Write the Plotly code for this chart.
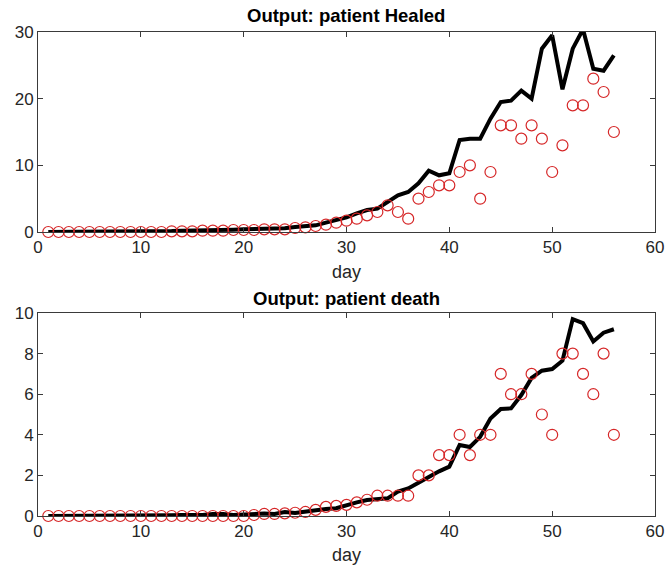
import plotly.graph_objects as go

days = list(range(1, 57))

healed_observed = [0, 0, 0, 0, 0, 0, 0, 0, 0, 0,
                   0, 0, 0.1, 0.1, 0.1, 0.2, 0.2, 0.2, 0.3, 0.3,
                   0.3, 0.4, 0.4, 0.4, 0.6, 0.7, 0.9, 1.1, 1.4, 1.7,
                   2, 2.5, 3, 4, 3, 2, 5, 6, 7, 7,
                   9, 10, 5, 9, 16, 16, 14, 16, 14, 9,
                   13, 19, 19, 23, 21, 15]

healed_model = [0, 0, 0, 0, 0.05, 0.05, 0.05, 0.1, 0.1, 0.1,
                0.1, 0.15, 0.15, 0.2, 0.2, 0.25, 0.3, 0.3, 0.35, 0.4,
                0.4, 0.45, 0.5, 0.55, 0.75, 0.9, 1.0, 1.4, 1.8, 2.2,
                2.8, 3.3, 3.5, 4.5, 5.5, 6.0, 7.3, 9.2, 8.5, 8.8,
                13.8, 14.0, 14.0, 17.0, 19.5, 19.7, 21.2, 20.0, 27.5, 29.5,
                21.4, 27.5, 30.4, 24.5, 24.2, 26.5]

death_observed = [0, 0, 0, 0, 0, 0, 0, 0, 0, 0,
                  0, 0, 0, 0, 0, 0, 0, 0, 0, 0,
                  0.05, 0.1, 0.1, 0.13, 0.16, 0.2, 0.3, 0.45, 0.5, 0.55,
                  0.67, 0.8, 1, 1, 1, 1, 2, 2, 3, 3,
                  4, 3, 4, 4, 7, 6, 6, 7, 5, 4,
                  8, 8, 7, 6, 8, 4]

death_model = [0, 0, 0, 0, 0, 0.02, 0.02, 0.02, 0.03, 0.03,
               0.03, 0.04, 0.04, 0.05, 0.05, 0.05, 0.1, 0.1, 0.05, 0.08,
               0.1, 0.12, 0.1, 0.2, 0.15, 0.22, 0.3, 0.35, 0.38, 0.54,
               0.67, 0.79, 0.82, 0.87, 1.2, 1.36, 1.64, 1.94, 2.2, 2.43,
               3.5, 3.4, 3.9, 4.8, 5.27, 5.3, 5.96, 6.8, 7.16, 7.24,
               7.65, 9.7, 9.5, 8.6, 9.03, 9.2]

x_ticks = [0, 10, 20, 30, 40, 50, 60]
healed_ticks = [0, 10, 20, 30]
death_ticks = [0, 2, 4, 6, 8, 10]

W, H = 665, 569
FONT = "Liberation Sans, Arial, sans-serif"
AX = "#3a3a3a"
RED = "#d62728"

fig = go.Figure()

for obs, mod, xa, ya in [(healed_observed, healed_model, "x", "y"),
                         (death_observed, death_model, "x2", "y2")]:
    fig.add_trace(go.Scatter(x=days, y=mod, mode="lines",
                             line=dict(color="black", width=4),
                             xaxis=xa, yaxis=ya, showlegend=False))
    fig.add_trace(go.Scatter(x=days, y=obs, mode="markers",
                             marker=dict(symbol="circle-open", size=11,
                                         color=RED, line=dict(width=1.2, color=RED)),
                             xaxis=xa, yaxis=ya, showlegend=False, cliponaxis=False))

xl, xr = 38 / W, 655 / W
top_dom = [1 - 232 / H, 1 - 32 / H]
bot_dom = [1 - 516 / H, 1 - 313 / H]

axis_common = dict(showline=True, linecolor=AX, linewidth=1, mirror="ticks",
                   ticks="inside", ticklen=5, tickcolor=AX, showgrid=False,
                   zeroline=False, automargin=False,
                   tickfont=dict(family=FONT, size=17, color="#262626"))


def ann(text, ypix, size, color):
    return dict(text=text, x=(xl + xr) / 2, y=1 - ypix / H, xref="paper", yref="paper",
                xanchor="center", yanchor="middle", showarrow=False,
                font=dict(family=FONT, size=size, color=color))


fig.update_layout(
    width=W, height=H,
    margin=dict(l=0, r=0, t=0, b=0, autoexpand=False),
    showlegend=False,
    paper_bgcolor="white", plot_bgcolor="white",
    xaxis=dict(domain=[xl, xr], range=[0, 60], tickvals=x_ticks, anchor="y", **axis_common),
    yaxis=dict(domain=top_dom, range=[0, 30], tickvals=healed_ticks, anchor="x", **axis_common),
    xaxis2=dict(domain=[xl, xr], range=[0, 60], tickvals=x_ticks, anchor="y2", **axis_common),
    yaxis2=dict(domain=bot_dom, range=[0, 10], tickvals=death_ticks, anchor="x2", **axis_common),
    annotations=[
        ann("<b>Output: patient Healed</b>", 15, 18.5, "black"),
        ann("<b>Output: patient death</b>", 298, 18.5, "black"),
        ann("day", 272, 18, "#262626"),
        ann("day", 555, 18, "#262626"),
    ],
)

fig.write_html("out.html")
